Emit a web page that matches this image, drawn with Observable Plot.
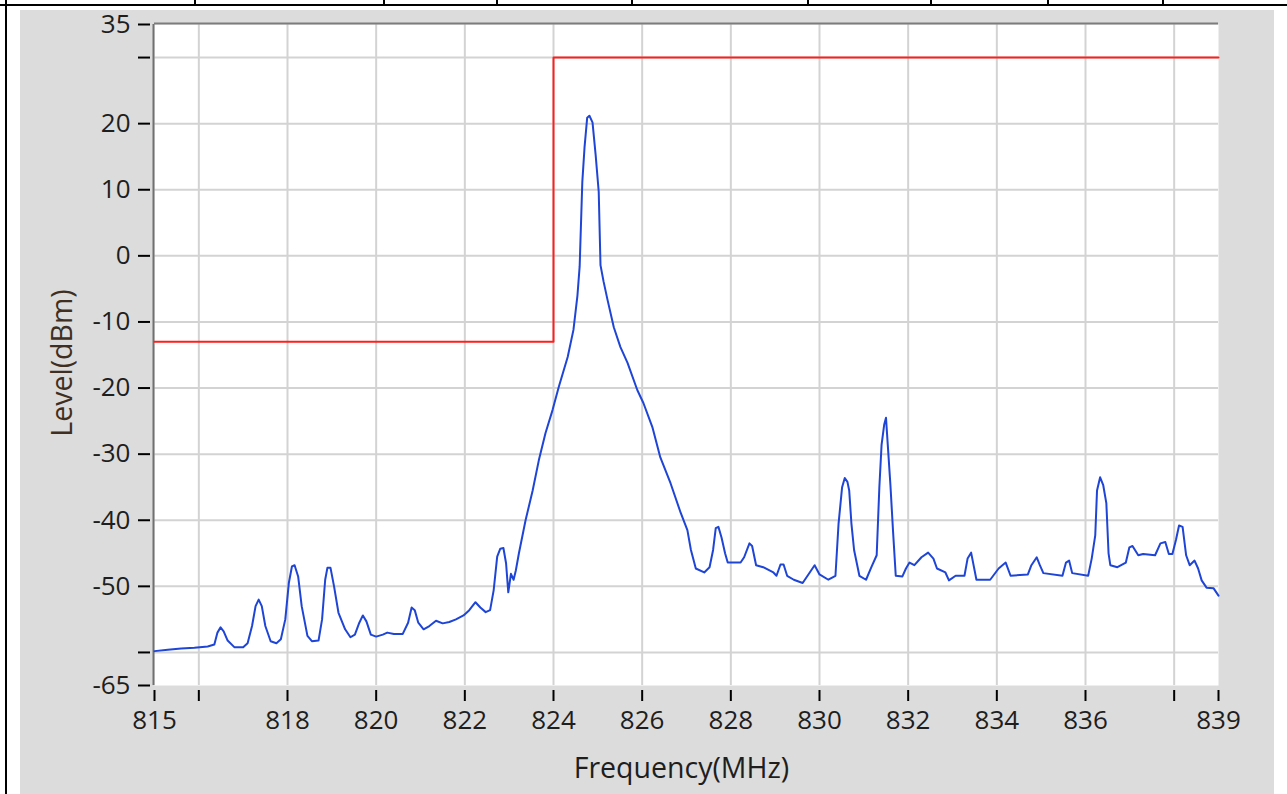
<!DOCTYPE html>
<html>
<head>
<meta charset="utf-8">
<script src="https://cdn.jsdelivr.net/npm/d3@7"></script>
<script src="https://cdn.jsdelivr.net/npm/@observablehq/plot@0.6"></script>
<style>
  html, body { margin: 0; padding: 0; background: #ffffff; }
  #wrap { position: relative; width: 1287px; height: 794px; overflow: hidden; }
  .deco { position: absolute; }
  #wrap svg { position: absolute; left: 0; top: 0; }
</style>
</head>
<body>
<div id="wrap">
  <div class="deco" style="left:20px;top:10px;width:1254px;height:784px;background:#dcdcdc;"></div>
  <div class="deco" style="left:0;top:4px;width:1287px;height:2px;background:#000;"></div>
  <div class="deco" style="left:5px;top:0;width:2px;height:794px;background:#000;"></div>
  <div id="seps"></div>
</div>
<script>
// ---- data ----
const spectrumFreq = [
  815.00, 815.30, 815.60, 815.90, 816.20, 816.35, 816.42, 816.49, 816.56, 816.65,
  816.80, 817.00, 817.10, 817.20, 817.28, 817.35, 817.42, 817.50, 817.62, 817.75,
  817.85, 817.95, 818.03, 818.10, 818.16, 818.24, 818.32, 818.45, 818.55, 818.70,
  818.78, 818.85, 818.90, 818.97, 819.05, 819.15, 819.30, 819.42, 819.52, 819.62,
  819.70, 819.78, 819.88, 820.00, 820.15, 820.25, 820.40, 820.60, 820.72, 820.80,
  820.87, 820.95, 821.07, 821.20, 821.35, 821.50, 821.65, 821.80, 821.97, 822.10,
  822.24, 822.35, 822.47, 822.57, 822.65, 822.73, 822.80, 822.87, 822.93, 822.98,
  823.04, 823.10, 823.15, 823.22, 823.37, 823.53, 823.67, 823.82, 823.98, 824.12,
  824.32, 824.45, 824.54, 824.59, 824.65, 824.70, 824.76, 824.81, 824.88, 824.95,
  825.02, 825.06, 825.13, 825.22, 825.36, 825.51, 825.67, 825.89, 826.03, 826.23,
  826.41, 826.64, 826.87, 827.02, 827.10, 827.21, 827.40, 827.52, 827.60, 827.66,
  827.72, 827.79, 827.87, 827.93, 828.22, 828.30, 828.42, 828.48, 828.57, 828.73,
  828.96, 829.03, 829.12, 829.19, 829.27, 829.42, 829.62, 829.78, 829.89, 830.00,
  830.20, 830.36, 830.43, 830.51, 830.57, 830.63, 830.67, 830.72, 830.78, 830.90,
  831.05, 831.17, 831.29, 831.35, 831.40, 831.46, 831.50, 831.54, 831.60, 831.66,
  831.72, 831.87, 831.95, 832.03, 832.14, 832.30, 832.45, 832.57, 832.65, 832.84,
  832.92, 833.07, 833.27, 833.34, 833.42, 833.54, 833.85, 834.04, 834.20, 834.31,
  834.70, 834.78, 834.90, 834.97, 835.05, 835.48, 835.56, 835.63, 835.70, 836.06,
  836.14, 836.22, 836.26, 836.33, 836.40, 836.47, 836.52, 836.56, 836.72, 836.91,
  836.99, 837.06, 837.19, 837.30, 837.57, 837.69, 837.80, 837.88, 837.96, 838.04,
  838.11, 838.19, 838.27, 838.35, 838.46, 838.54, 838.62, 838.73, 838.89, 839.00
];
const spectrumLevel = [
  -59.8, -59.6, -59.4, -59.3, -59.1, -58.8, -57.0, -56.2, -56.8, -58.2,
  -59.2, -59.2, -58.6, -56.0, -53.0, -52.0, -53.0, -56.0, -58.3, -58.6,
  -58.0, -55.0, -49.5, -47.0, -46.8, -48.5, -53.0, -57.5, -58.3, -58.2,
  -55.0, -49.0, -47.2, -47.2, -50.0, -54.0, -56.5, -57.7, -57.3, -55.5,
  -54.4, -55.3, -57.3, -57.6, -57.3, -57.0, -57.2, -57.2, -55.5, -53.2,
  -53.6, -55.5, -56.5, -56.0, -55.2, -55.6, -55.4, -55.0, -54.4, -53.6,
  -52.4, -53.2, -53.9, -53.6, -50.6, -45.5, -44.3, -44.2, -46.5, -50.9,
  -48.1, -49.0, -47.6, -45.0, -40.0, -35.5, -30.9, -26.8, -23.3, -19.8,
  -15.3, -11.2, -6.0, -1.6, 11.2, 16.4, 20.9, 21.2, 20.2, 15.3,
  9.7, -1.4, -3.9, -6.7, -10.8, -13.8, -16.2, -20.3, -22.3, -25.9,
  -30.5, -34.4, -38.9, -41.5, -44.5, -47.3, -47.9, -47.1, -44.5, -41.2,
  -41.0, -42.6, -45.0, -46.4, -46.4, -45.6, -43.5, -43.9, -46.8, -47.1,
  -47.9, -48.4, -46.7, -46.7, -48.4, -49.0, -49.5, -47.9, -46.8, -48.2,
  -49.0, -48.4, -40.5, -35.0, -33.6, -34.2, -35.5, -40.5, -44.5, -48.4,
  -49.0, -47.1, -45.3, -35.0, -28.6, -25.5, -24.5, -28.6, -34.7, -41.8,
  -48.4, -48.5, -47.3, -46.4, -46.8, -45.6, -44.9, -45.8, -47.3, -47.9,
  -49.1, -48.4, -48.4, -45.8, -44.9, -49.0, -49.0, -47.3, -46.4, -48.4,
  -48.2, -46.8, -45.6, -46.8, -48.0, -48.4, -46.4, -46.1, -48.0, -48.4,
  -45.8, -42.3, -35.5, -33.5, -34.7, -37.4, -45.0, -46.8, -47.1, -46.4,
  -44.1, -43.9, -45.3, -45.1, -45.3, -43.5, -43.3, -45.1, -45.1, -43.0,
  -40.8, -41.0, -45.3, -46.8, -46.1, -47.3, -49.1, -50.2, -50.3, -51.4
];
const limitFreq = [815, 824, 824, 839];
const limitLevel = [-13, -13, 30, 30];

const xTicks = [815, 816, 818, 820, 822, 824, 826, 828, 830, 832, 834, 836, 838, 839];
const xTickLabels = ["815", "", "818", "820", "822", "824", "826", "828", "830", "832", "834", "836", "", "839"];
const xGrid = [816, 818, 820, 822, 824, 826, 828, 830, 832, 834, 836, 838];
const yTicks = [35, 30, 20, 10, 0, -10, -20, -30, -40, -50, -60, -65];
const yTickLabels = ["35", "", "20", "10", "0", "-10", "-20", "-30", "-40", "-50", "", "-65"];
const yGrid = [30, 20, 10, 0, -10, -20, -30, -40, -50, -60];
const xLabel = "Frequency(MHz)";
const yLabel = "Level(dBm)";
const topSeparators = [194, 383, 496, 631, 807, 930, 1047, 1162];

// ---- decorations (page frame) ----
const seps = document.getElementById("seps");
topSeparators.forEach(x => {
  const d = document.createElement("div");
  d.className = "deco";
  d.style.cssText = `left:${x}px;top:0;width:2px;height:6px;background:#000;`;
  seps.appendChild(d);
});

const spectrum = spectrumFreq.map((f, i) => ({f, v: spectrumLevel[i]}));
const limit = limitFreq.map((f, i) => ({f, v: limitLevel[i]}));
const xLab = new Map(xTicks.map((t, i) => [t, xTickLabels[i]]));
const yLab = new Map(yTicks.map((t, i) => [t, yTickLabels[i]]));
const font = "'Segoe UI', 'Open Sans', sans-serif";

const chart = Plot.plot({
  width: 1287,
  height: 794,
  marginLeft: 154,
  marginRight: 69,
  marginTop: 24,
  marginBottom: 109,
  style: {background: "transparent", fontFamily: font, fontSize: "26px", color: "#1e1e1e"},
  x: {domain: [815, 839], type: "linear"},
  y: {domain: [-65, 35], type: "linear"},
  marks: [
    Plot.frame({fill: "white", stroke: "none"}),
    Plot.ruleX(xGrid, {stroke: "#d3d3d3", strokeWidth: 2}),
    Plot.ruleY(yGrid, {stroke: "#d3d3d3", strokeWidth: 2}),
    Plot.ruleX([815], {stroke: "#707070", strokeWidth: 2, dx: -1}),
    Plot.ruleY([35], {stroke: "#7c7c7c", strokeWidth: 2, dy: -1}),
    Plot.line(limit, {x: "f", y: "v", stroke: "#ff1e1e", strokeWidth: 2}),
    Plot.line(spectrum, {x: "f", y: "v", stroke: "#1f45d6", strokeWidth: 2}),
    Plot.axisY({ticks: yTicks, tickFormat: d => yLab.get(d), tickSize: 12, tickPadding: 8, dx: -4,
      stroke: "#000", strokeWidth: 2, fill: "#1e1e1e", fontSize: 26, label: null}),
    Plot.axisX({ticks: xTicks, tickFormat: d => xLab.get(d), tickSize: 11, tickPadding: 9, dy: 5,
      stroke: "#000", strokeWidth: 2, fill: "#1e1e1e", fontSize: 26, label: null}),
    Plot.text([yLabel], {text: d => d, frameAnchor: "left", textAnchor: "middle", lineAnchor: "middle",
      dx: -92, dy: 8, rotate: -90, fill: "#3e2f22", fontSize: 28.5}),
    Plot.text([xLabel], {text: d => d, frameAnchor: "bottom", textAnchor: "middle", lineAnchor: "middle",
      dx: -5, dy: 83, fill: "#1e1e1e", fontSize: 28.5})
  ]
});
document.getElementById("wrap").appendChild(chart);
</script>
</body>
</html>
